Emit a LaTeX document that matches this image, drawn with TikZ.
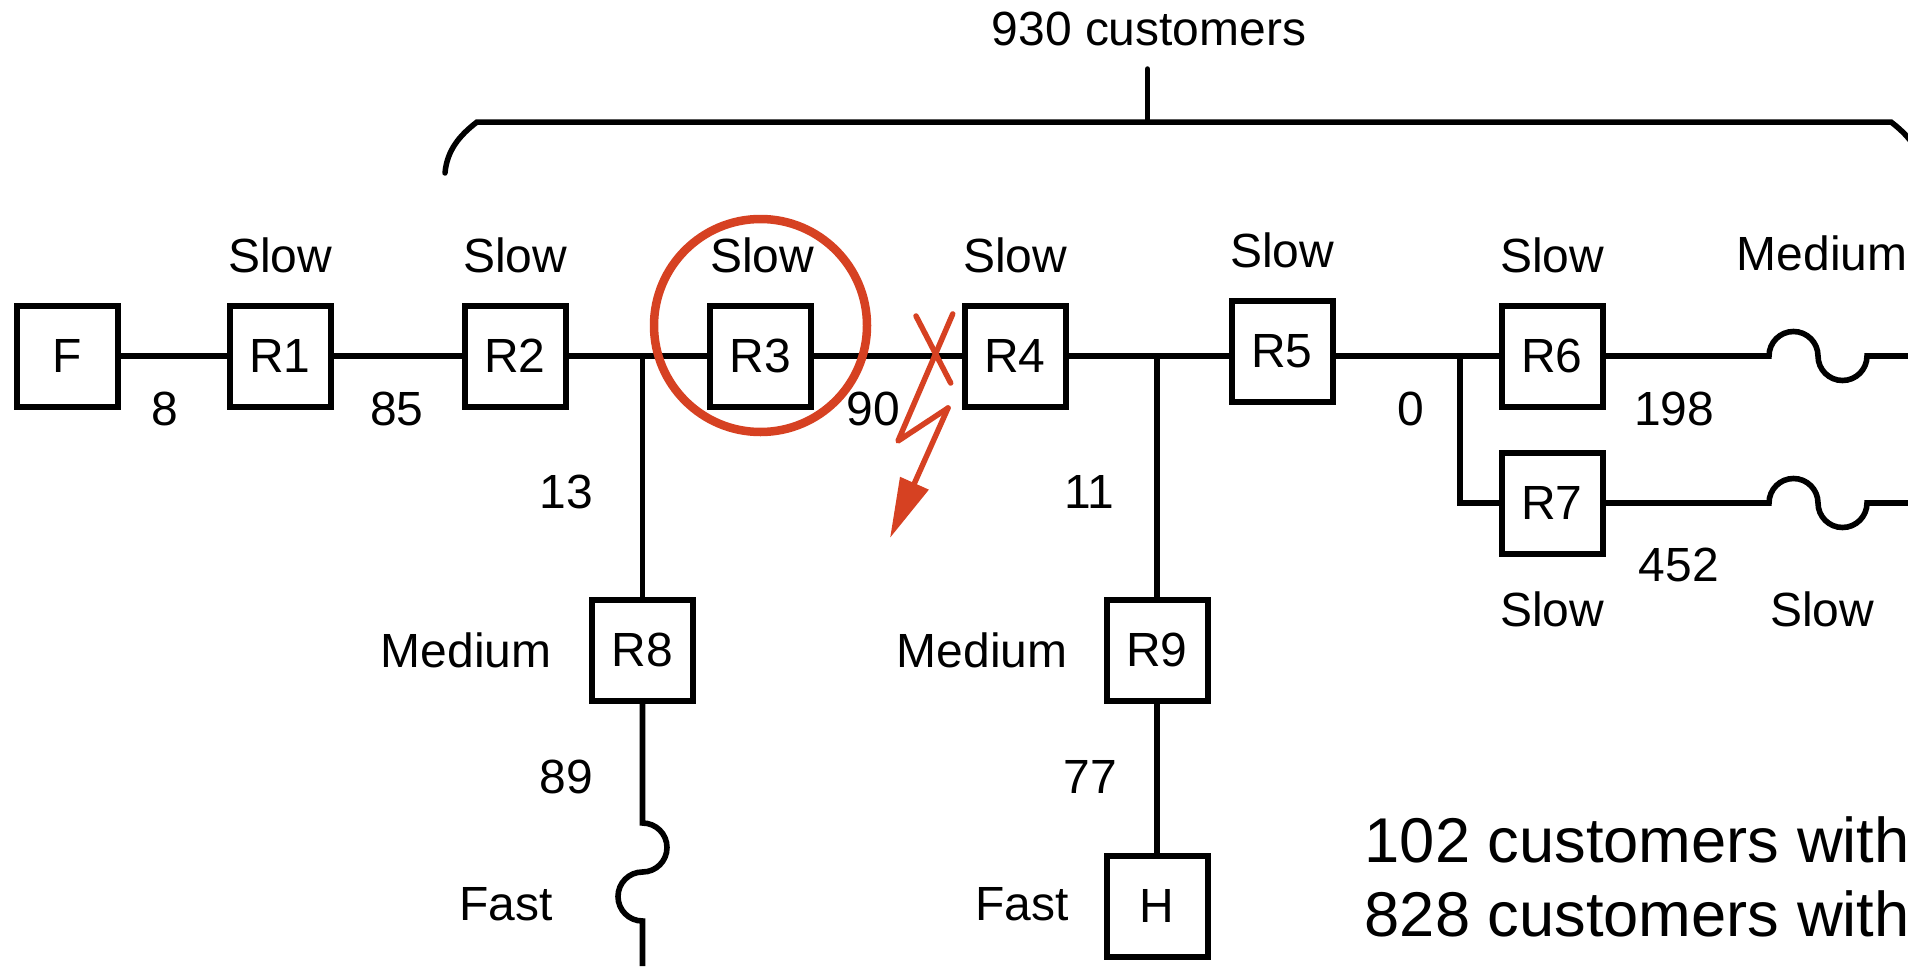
\documentclass[tikz,border=0pt]{standalone}
\usepackage{fontspec}
\setmainfont{Liberation Sans}
\usetikzlibrary{arrows.meta,positioning,calc}
\definecolor{myred}{HTML}{D64122}
\tikzset{
  box/.style={draw, line width=.06cm, minimum size=1.01cm, inner sep=0pt, fill=white},
  wire/.style={line width=.056cm},
  brace/.style={line width=.055cm, line cap=round},
  lab/.style={anchor=base, inner sep=0pt},
  note/.style={anchor=base west, inner sep=0pt, font=\fontsize{18}{21.6}\selectfont},
  redring/.style={draw=myred, line width=.085cm},
  bolt/.style={draw=myred, line width=.055cm, line cap=round, line join=round},
}

\begin{document}
\begin{tikzpicture}[font=\fontsize{13.65}{16}\selectfont]
    \useasboundingbox (0,0) rectangle (19.08,9.66);
    % recloser chain
    \node[box] (F) at (0.67,6.10) {F};
    \node[box] (R1) at (2.80,6.10) {R1};
    \node[box] (R2) at (5.15,6.10) {R2};
    \node[box] (R3) at (7.605,6.10) {R3};
    \node[box] (R4) at (10.15,6.10) {R4};
    \node[box] (R5) at (12.82,6.15) {R5};
    \node[box] (R6) at (15.52,6.10) {R6};
    \node[box] (R7) at (15.52,4.63) {R7};
    \node[box] (R8) at (6.425,3.16) {R8};
    \node[box] (R9) at (11.57,3.16) {R9};
    \node[box] (H) at (11.57,0.60) {H};
    \coordinate (J1) at (6.425,6.10);
    \coordinate (J3) at (14.60,6.10);
    \coordinate (F6) at (17.69,6.10);
    \coordinate (E6) at (19.08,6.10);
    \coordinate (F7) at (17.69,4.63);
    \coordinate (E7) at (19.08,4.63);
    \coordinate (F8) at (6.425,1.43);
    \coordinate (E8) at (6.425,0);
    \draw[wire] (F)--(R1); \draw[wire] (R1)--(R2); \draw[wire] (R2)--(R3); \draw[wire] (R3)--(R4);
    \draw[wire] (R4)--(R5.west |- R4); \draw[wire] (R5.east |- R6)--(R6);
    \draw[wire] (J1)--(R8); \draw[wire] (R9 |- R4)--(R9); \draw[wire] (R9)--(H);
    \draw[wire] (J3) |- (R7);
    \draw[wire] (R6)--(F6) arc[start angle=180,end angle=0,radius=.245] arc[start angle=180,end angle=360,radius=.245]--(E6);
    \draw[wire] (R7)--(F7) arc[start angle=180,end angle=0,radius=.245] arc[start angle=180,end angle=360,radius=.245]--(E7);
    \draw[wire] (R8)--(F8) arc[start angle=90,end angle=-90,radius=.245] arc[start angle=90,end angle=270,radius=.245]--(E8);
    % speeds
    \node[lab] (s1) at (2.80,6.94) {Slow};
    \node[lab] (s2) at (5.15,6.94) {Slow};
    \node[lab] (s3) at (7.62,6.94) {Slow};
    \node[lab] (s4) at (10.15,6.94) {Slow};
    \node[lab] (s5) at (12.82,6.99) {Slow};
    \node[lab] (s6) at (15.52,6.94) {Slow};
    \node[lab] (s7) at (18.22,6.96) {Medium};
    \node[lab] (s8) at (15.52,3.40) {Slow};
    \node[lab] (s9) at (18.22,3.40) {Slow};
    \node[lab] (s10) at (4.66,2.99) {Medium};
    \node[lab] (s11) at (9.82,2.99) {Medium};
    \node[lab] (s12) at (5.06,0.46) {Fast};
    \node[lab] (s13) at (10.22,0.46) {Fast};
    % customer counts
    \node[lab] (n1) at (1.65,5.41) {8};
    \node[lab] (n2) at (3.97,5.41) {85};
    \node[lab] (n3) at (8.73,5.41) {90};
    \node[lab] (n4) at (14.11,5.41) {0};
    \node[lab] (n5) at (16.74,5.41) {198};
    \node[lab] (n6) at (16.79,3.85) {452};
    \node[lab] (n7) at (5.66,4.58) {13};
    \node[lab] (n8) at (10.89,4.58) {11};
    \node[lab] (n9) at (5.66,1.73) {89};
    \node[lab] (n10) at (10.90,1.73) {77};
    % brace
    \node[lab] (tot) at (11.49,9.20) {930 customers};
    \coordinate (bl) at (4.45,7.93);
    \coordinate (bm) at (11.475,8.44);
    \coordinate (bt) at (11.475,8.97);
    \coordinate (br) at (19.23,7.93);
    \draw[brace] (bl) .. controls (4.47,8.16) and (4.60,8.31) .. (4.77,8.44) -- (18.91,8.44) .. controls (19.08,8.31) and (19.21,8.16) .. (br);
    \draw[brace] (bm)--(bt);
    % fault
    \node[redring, circle, minimum size=2.13cm] (ring) at (7.605,6.405) {};
    \coordinate (x1) at (9.16,6.50);
    \coordinate (x2) at (9.507,5.83);
    \coordinate (x3) at (9.527,6.52);
    \coordinate (z1) at (8.98,5.25);
    \coordinate (z2) at (9.48,5.58);
    \coordinate (z3) at (8.90,4.28);
    \draw[bolt] (x1)--(x2);
    \draw[bolt] (x3)--(z1)--(z2);
    \draw[bolt, -{Triangle[length=6mm,width=3mm]}] (z2)--(z3);
    % notes
    \node[note] (t1) at (13.64,1.04) {102 customers with};
    \node[note] (t2) at (13.64,0.30) {828 customers with};
  \end{tikzpicture}
\end{document}
